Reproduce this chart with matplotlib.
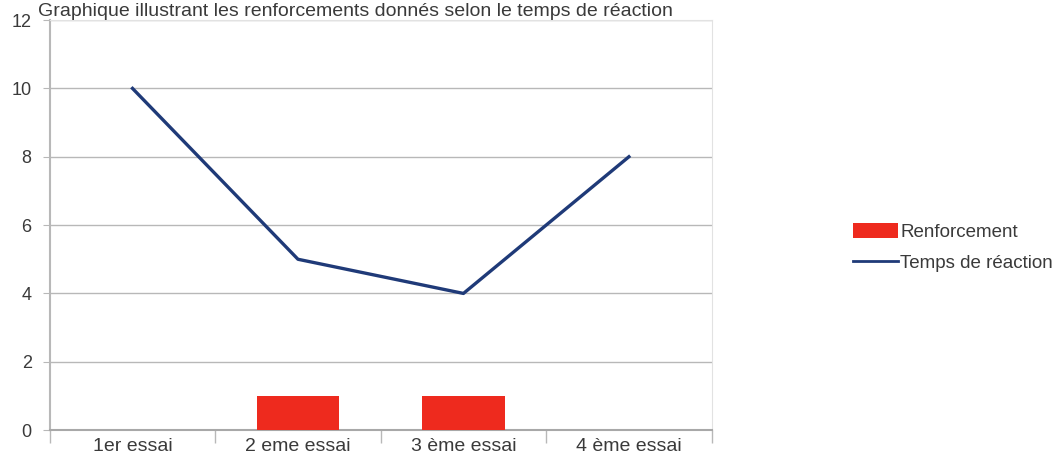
import numpy as np
import matplotlib.pyplot as plt
from matplotlib.patches import Patch
from matplotlib.lines import Line2D

plt.rcParams['font.family'] = ['Liberation Sans', 'DejaVu Sans']

essais = ['1er essai', '2 eme essai', '3 ème essai', '4 ème essai']
renforcement = [0, 1, 1, 0]
temps_reaction = [10, 5, 4, 8]
y_ticks = [0, 2, 4, 6, 8, 10, 12]

titre = 'Graphique illustrant les renforcements donnés selon le temps de réaction'

txt = '#3a3a3a'
grid = '#b8b8b8'

fig = plt.figure(figsize=(10.59, 4.67), dpi=100)
ax = fig.add_axes([0.047, 0.079, 0.625, 0.878])

x = np.arange(len(essais))
ax.bar(x, renforcement, width=0.5, color='#ee2a1e', zorder=3)
ax.plot(x, temps_reaction, color='#1f3a78', linewidth=2.4, zorder=4)

ax.set_xlim(-0.5, len(essais) - 0.5)
ax.set_ylim(0, 12)
ax.set_yticks(y_ticks)
ax.set_yticklabels([str(v) for v in y_ticks], fontsize=13, color=txt)
ax.yaxis.grid(True, color=grid, linewidth=1, zorder=0)
ax.tick_params(axis='y', length=5, color=grid, pad=8)

# category labels centred, tick marks on the category boundaries
ax.set_xticks(x)
ax.set_xticklabels(essais, fontsize=14, color=txt)
ax.tick_params(axis='x', which='major', length=0, pad=6)
ax.set_xticks(np.arange(-0.5, len(essais)), minor=True)
ax.tick_params(axis='x', which='minor', length=9, color=grid, width=1)

for s in ['top', 'right']:
    ax.spines[s].set_color('#e2e2e2')
ax.spines['left'].set_color(grid)
ax.spines['bottom'].set_color('#a8a8a8')
ax.spines['left'].set_linewidth(1.5)
ax.spines['bottom'].set_linewidth(1.5)

handles = [Patch(facecolor='#ee2a1e', edgecolor='none'),
           Line2D([], [], color='#1f3a78', linewidth=2)]
fig.legend(handles, ['Renforcement', 'Temps de réaction'],
           loc='center left', bbox_to_anchor=(0.79, 0.47), frameon=False,
           fontsize=13.5, labelcolor=txt, handlelength=2.4, handleheight=0.9,
           handletextpad=0.1, labelspacing=0.7)

# title sits just above the plot, right of the y tick labels
fig.text(0.036, 0.966, titre, fontsize=14, color=txt, va='baseline', ha='left')

fig.savefig('out.png', dpi=100, facecolor='white')
